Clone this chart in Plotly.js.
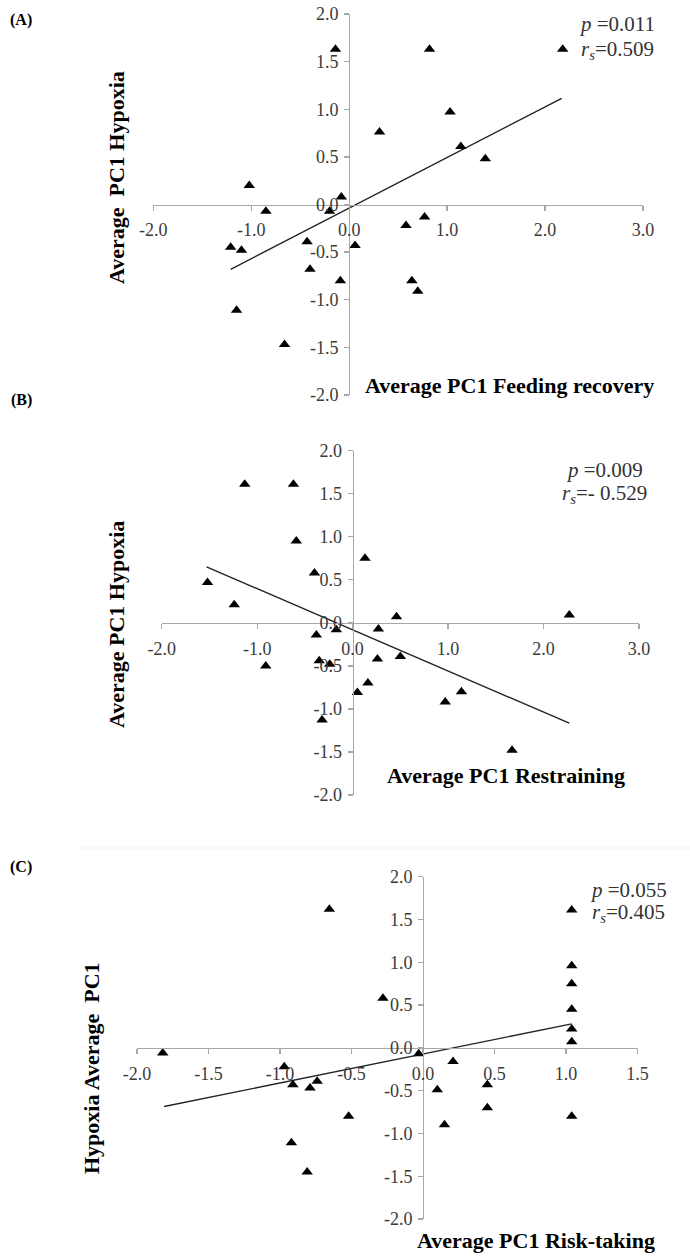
<!DOCTYPE html>
<html>
<head>
<meta charset="utf-8">
<script src="https://cdn.plot.ly/plotly-3.0.1.min.js"></script>
<style>html,body{margin:0;padding:0;background:#fff;}#chart{width:690px;height:1257px;}</style>
</head>
<body>
<div id="chart"></div>
<script>
// ---- Data ----
const A_x = [-0.14, 0.82, 2.18, 1.03, 0.31, 1.14, 1.39, -1.02, -0.08, -0.85, -0.20, 0.58, 0.77, -0.43, 0.06, -1.21, -1.10, -0.40, -0.09, 0.64, 0.70, -1.15, -0.66];
const A_y = [1.63, 1.63, 1.63, 0.97, 0.76, 0.61, 0.48, 0.20, 0.08, -0.07, -0.07, -0.22, -0.13, -0.39, -0.43, -0.45, -0.48, -0.68, -0.80, -0.80, -0.91, -1.11, -1.47];
const A_fit_x = [-1.21, 2.17];
const A_fit_y = [-0.68, 1.115];

const B_x = [-1.13, -0.62, -0.59, 0.13, -0.40, -1.52, -1.24, 0.46, -0.38, -0.17, 0.27, 2.27, -0.91, -0.35, -0.24, 0.26, 0.50, 0.16, 0.05, -0.32, 0.97, 1.14, 1.67];
const B_y = [1.61, 1.61, 0.95, 0.75, 0.58, 0.47, 0.21, 0.07, -0.14, -0.08, -0.07, 0.09, -0.50, -0.44, -0.48, -0.42, -0.39, -0.70, -0.81, -1.13, -0.92, -0.80, -1.48];
const B_fit_x = [-1.53, 2.27];
const B_fit_y = [0.65, -1.166];

const C_x = [-0.655, 1.04, 1.04, 1.04, -0.28, 1.04, 1.04, 1.04, -1.82, -0.03, 0.21, -0.97, -0.74, -0.91, 0.45, -0.79, 0.10, 0.45, -0.52, 1.04, 0.15, -0.92, -0.81];
const C_y = [1.62, 1.61, 0.96, 0.75, 0.58, 0.45, 0.22, 0.07, -0.06, -0.07, -0.16, -0.22, -0.39, -0.43, -0.43, -0.47, -0.49, -0.70, -0.80, -0.80, -0.90, -1.11, -1.45];
const C_fit_x = [-1.81, 1.04];
const C_fit_y = [-0.685, 0.28];

const xTicksAB = [-2, -1, 0, 1, 2, 3];
const xTickTextAB = ["-2.0", "-1.0", "0.0", "1.0", "2.0", "3.0"];
const xTicksC = [-2, -1.5, -1, -0.5, 0, 0.5, 1, 1.5];
const xTickTextC = ["-2.0", "-1.5", "-1.0", "-0.5", "0.0", "0.5", "1.0", "1.5"];
const yTicks = [-2, -1.5, -1, -0.5, 0, 0.5, 1, 1.5, 2];
const yTickText = ["-2.0", "-1.5", "-1.0", "-0.5", "0.0", "0.5", "1.0", "1.5", "2.0"];

const panelLabels = ["(A)", "(B)", "(C)"];
const xTitles = ["Average PC1 Feeding recovery", "Average PC1 Restraining", "Average PC1 Risk-taking"];
const yTitles = ["Average&nbsp;&nbsp;PC1 Hypoxia", "Average PC1 Hypoxia", "Hypoxia Average&nbsp;&nbsp;PC1"];
const pTexts = ["<i>p</i> =0.011", "<i>p</i> =0.009", "<i>p</i> =0.055"];
const rTexts = ["<i>r<sub>s</sub></i>=0.509", "<i>r<sub>s</sub></i>=- 0.529", "<i>r<sub>s</sub></i>=0.405"];

// ---- Layout helpers ----
const W = 690, H = 1257;
const px = x => x / W;
const py = y => 1 - y / H;
const SERIF = "Liberation Serif";

const markerStyle = {symbol: "triangle-up", size: 10, color: "#000"};
const lineStyle = {color: "#222", width: 1.4};

function sc(x, y, n) {
  const s = n === 1 ? "" : String(n);
  return {type: "scatter", mode: "markers", x: x, y: y, xaxis: "x" + s, yaxis: "y" + s,
          marker: markerStyle, cliponaxis: false, showlegend: false, hoverinfo: "skip"};
}
function fit(x, y, n) {
  const s = n === 1 ? "" : String(n);
  return {type: "scatter", mode: "lines", x: x, y: y, xaxis: "x" + s, yaxis: "y" + s,
          line: lineStyle, cliponaxis: false, showlegend: false, hoverinfo: "skip"};
}

const data = [
  fit(A_fit_x, A_fit_y, 1), sc(A_x, A_y, 1),
  fit(B_fit_x, B_fit_y, 2), sc(B_x, B_y, 2),
  fit(C_fit_x, C_fit_y, 3), sc(C_x, C_y, 3)
];

const axCommon = {
  showgrid: false, zeroline: false, showline: true, linecolor: "#a8a8a8", linewidth: 1.3,
  ticks: "outside", ticklen: 5, tickcolor: "#a8a8a8", tickwidth: 1.3,
  tickfont: {family: SERIF, size: 18, color: "#3a3a3a"}, fixedrange: true, automargin: false,
  tickmode: "array"
};

// pixel geometry of each panel (plot area)
const P = [
  {x0: 153.3, x1: 643, y0: 14, y1: 395, xr: [-2, 3], yr: [-2, 2]},
  {x0: 161.7, x1: 639, y0: 450.7, y1: 795, xr: [-2, 3], yr: [-2, 2]},
  {x0: 137, x1: 637.5, y0: 876.7, y1: 1219, xr: [-2, 1.5], yr: [-2, 2]}
];

const layout = {
  width: W, height: H, margin: {l: 0, r: 0, t: 0, b: 0},
  paper_bgcolor: "#fff", plot_bgcolor: "rgba(0,0,0,0)", showlegend: false,
  font: {family: SERIF, color: "#000"},
  annotations: [], shapes: []
};

P.forEach((p, i) => {
  const s = i === 0 ? "" : String(i + 1);
  const xdom = [px(p.x0), px(p.x1)];
  const ydom = [py(p.y1), py(p.y0)];
  const zeroY = ydom[0] + (ydom[1] - ydom[0]) * (0 - p.yr[0]) / (p.yr[1] - p.yr[0]);
  const zeroX = xdom[0] + (xdom[1] - xdom[0]) * (0 - p.xr[0]) / (p.xr[1] - p.xr[0]);
  layout["xaxis" + s] = Object.assign({}, axCommon, {
    domain: xdom, range: p.xr, anchor: "free", position: zeroY, side: "bottom",
    ticklabelstandoff: 4,
    tickvals: i === 2 ? xTicksC : xTicksAB, ticktext: i === 2 ? xTickTextC : xTickTextAB
  });
  layout["yaxis" + s] = Object.assign({}, axCommon, {
    domain: ydom, range: p.yr, anchor: "free", position: zeroX, side: "left",
    ticklabelstandoff: 2,
    tickvals: yTicks, ticktext: yTickText
  });
});

const ann = (text, x, y, opts) => Object.assign({
  text: text, x: px(x), y: py(y), xref: "paper", yref: "paper", showarrow: false,
  xanchor: "center", yanchor: "middle", font: {family: SERIF, size: 18, color: "#000"}
}, opts || {});

const labelPos = [[21, 20], [21, 400], [21, 867]];
const xTitlePos = [[510, 385], [506, 775], [536, 1240]];
const yTitlePos = [[116, 178], [116, 625], [91, 1068]];
const pPos = [[617, 24], [604, 470], [628, 890]];
const rPos = [[617, 50], [604, 494], [628, 913]];

for (let i = 0; i < 3; i++) {
  layout.annotations.push(ann("<b>" + panelLabels[i] + "</b>", labelPos[i][0], labelPos[i][1], {font: {family: SERIF, size: 16, color: "#000"}}));
  layout.annotations.push(ann("<b>" + xTitles[i] + "</b>", xTitlePos[i][0], xTitlePos[i][1], {font: {family: SERIF, size: 22, color: "#000"}}));
  layout.annotations.push(ann("<b>" + yTitles[i] + "</b>", yTitlePos[i][0], yTitlePos[i][1], {textangle: -90, font: {family: SERIF, size: 22, color: "#000"}}));
  layout.annotations.push(ann(pTexts[i], pPos[i][0], pPos[i][1], {font: {family: SERIF, size: 21, color: "#333"}}));
  layout.annotations.push(ann(rTexts[i], rPos[i][0], rPos[i][1], {font: {family: SERIF, size: 21, color: "#333"}}));
}

// faint scan separator line above panel C
layout.shapes.push({type: "line", xref: "paper", yref: "paper", x0: px(80), x1: 1, y0: py(848), y1: py(848), line: {color: "#f3f3f3", width: 1}});

Plotly.newPlot("chart", data, layout, {staticPlot: true, displayModeBar: false});
</script>
</body>
</html>
